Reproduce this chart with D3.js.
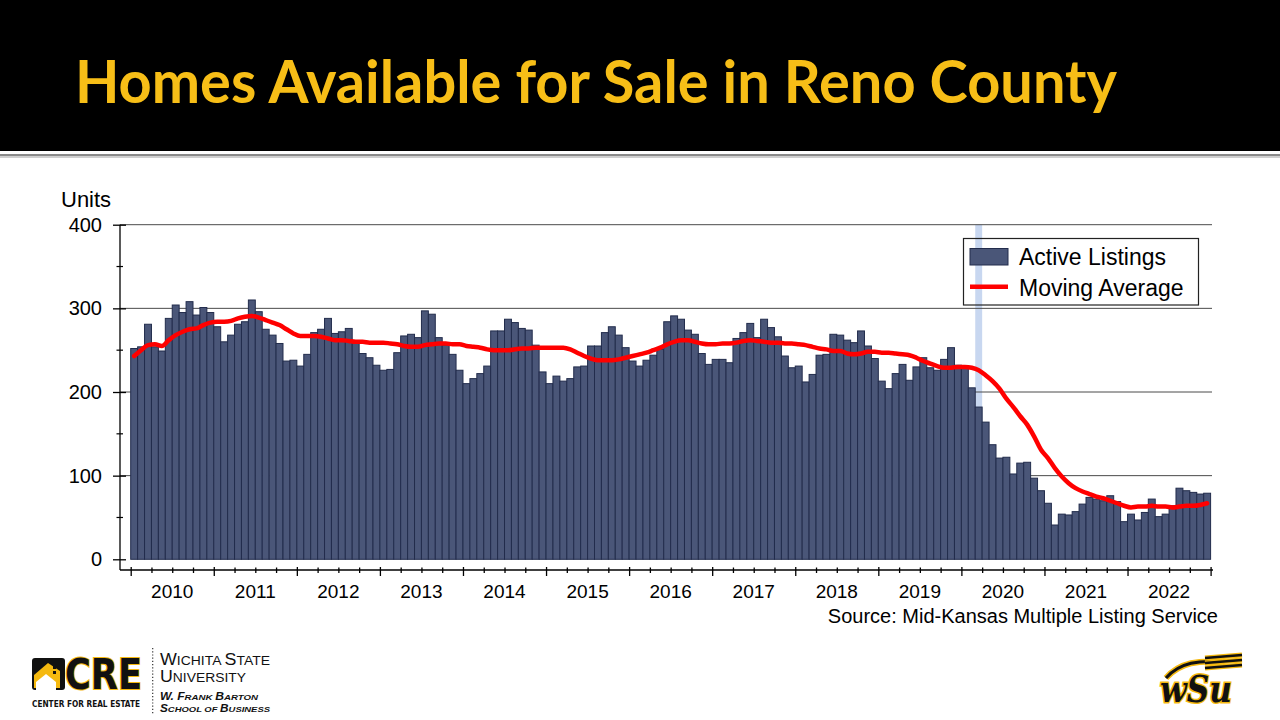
<!DOCTYPE html>
<html>
<head>
<meta charset="utf-8">
<script src="https://cdn.jsdelivr.net/npm/d3@7"></script>
<style>
  html, body { margin: 0; padding: 0; background: #ffffff; }
  svg { display: block; }
</style>
</head>
<body>
<svg id="chart" width="1280" height="720"></svg>
<script>
// ---------------- DATA ----------------
const years = ["2010","2011","2012","2013","2014","2015","2016","2017","2018","2019","2020","2021","2022"];

// Monthly active listings (Jan 2010 - Dec 2022)
const activeListings = [
  252,254,281,254,249,288,304,295,308,292,301,295,   // 2010
  278,260,268,281,284,310,296,275,268,258,237,238,   // 2011
  231,245,271,275,288,270,272,276,259,246,241,232,   // 2012
  226,227,247,267,269,265,297,293,265,256,245,226,   // 2013
  210,216,222,231,273,273,287,283,276,274,256,224,   // 2014
  210,219,213,216,230,231,255,255,271,278,268,253,   // 2015
  237,231,238,244,251,284,291,287,274,269,246,233,   // 2016
  239,239,235,264,271,282,265,287,277,266,243,229,   // 2017
  231,212,221,244,245,269,268,262,259,273,255,240,   // 2018
  213,204,222,233,214,230,241,229,226,239,253,232,   // 2019
  231,205,182,164,137,121,122,102,115,116,97,82,     // 2020
  67,41,54,53,57,66,74,72,70,76,69,45,               // 2021
  54,47,56,72,51,54,64,85,82,80,78,79                // 2022
];

// Moving average, read per month
const movingAverage = [
  243,250,256,257,255,262,268,272,275,276,280,283,   // 2010
  284,284,285,288,290,291,289,286,283,280,275,270,   // 2011
  267,267,267,266,264,262,262,261,260,260,259,259,   // 2012
  259,258,257,255,254,254,256,257,258,258,257,257,   // 2013
  255,254,253,251,250,250,250,251,252,252,253,253,   // 2014
  253,253,253,251,247,243,240,238,238,238,239,241,   // 2015
  243,245,247,250,253,257,260,262,262,260,258,257,   // 2016
  257,258,258,259,261,262,261,260,259,259,258,258,   // 2017
  257,256,254,252,251,249,249,246,245,246,248,248,   // 2018
  247,247,246,245,244,241,237,234,231,229,229,230,   // 2019
  230,229,226,220,213,204,192,182,171,161,147,131,   // 2020
  121,109,99,91,85,81,78,75,73,70,67,64,             // 2021
  62,63,63,64,63,63,62,63,64,64,65,67                // 2022
];

const yTicks = [0, 100, 200, 300, 400];
const yMinorTicks = [50, 150, 250, 350];
const highlightMonth = [122];   // March 2020 shaded band
const legendLabels = ["Active Listings", "Moving Average"];

const titleText = "Homes Available for Sale in Reno County";
const unitsLabel = "Units";
const sourceText = "Source: Mid-Kansas Multiple Listing Service";

// ---------------- DRAW ----------------
const svg = d3.select("#chart");
const W = 1280, H = 720;

// Header
svg.append("rect").attr("x", 0).attr("y", 0).attr("width", W).attr("height", 151).attr("fill", "#000");
svg.append("rect").attr("x", 0).attr("y", 154).attr("width", W).attr("height", 2).attr("fill", "#8a8a8a");
svg.append("rect").attr("x", 0).attr("y", 156).attr("width", W).attr("height", 2).attr("fill", "#d0d0d0");

svg.append("text")
  .attr("x", 75).attr("y", 103)
  .attr("fill", "#f7be17")
  .attr("font-family", "Lato, 'Open Sans', sans-serif")
  .attr("font-weight", 700)
  .attr("font-size", 59)
  .attr("textLength", 1042)
  .attr("lengthAdjust", "spacingAndGlyphs")
  .text(titleText);

// Plot geometry
const plotLeft = 130.7, plotRight = 1210.6, yZero = 559.3, yTop = 224.7;
const axisX = 120, axisY = 570, gridRight = 1212;
const nMonths = activeListings.length;

const x = d3.scaleBand().domain(d3.range(nMonths)).range([plotLeft, plotRight]).padding(0);
const xq = d3.scaleLinear().domain([0, nMonths]).range([plotLeft, plotRight]);
const y = d3.scaleLinear().domain([0, 400]).range([yZero, yTop]);

const font = "'Liberation Sans', Arial, sans-serif";

// Highlight band (behind everything)
svg.append("g").selectAll("rect").data(highlightMonth).join("rect")
  .attr("x", d => x(d))
  .attr("width", x.bandwidth())
  .attr("y", y(400))
  .attr("height", y(0) - y(400))
  .attr("fill", "#c8d7f0");

// Gridlines
svg.append("g").selectAll("line").data(yTicks.filter(d => d > 0)).join("line")
  .attr("x1", axisX).attr("x2", gridRight)
  .attr("y1", d => y(d)).attr("y2", d => y(d))
  .attr("stroke", "#4a4a4a").attr("stroke-width", 1);

// Bars
svg.append("g").selectAll("rect").data(activeListings).join("rect")
  .attr("x", (d, i) => x(i))
  .attr("width", x.bandwidth())
  .attr("y", d => y(d))
  .attr("height", d => y(0) - y(d))
  .attr("fill", "#4a5678")
  .attr("stroke", "#222c4c")
  .attr("stroke-width", 1);

// Moving average line
const line = d3.line()
  .x((d, i) => x(i) + x.bandwidth() / 2)
  .y(d => y(d))
  .curve(d3.curveMonotoneX);
svg.append("path").datum(movingAverage)
  .attr("d", line)
  .attr("fill", "none")
  .attr("stroke", "#ff0000")
  .attr("stroke-width", 4.5)
  .attr("stroke-linejoin", "round")
  .attr("stroke-linecap", "round");

// Y axis
const yAxis = svg.append("g").attr("transform", `translate(${axisX},0)`)
  .call(d3.axisLeft(y).tickValues(yTicks).tickSize(0).tickPadding(18));
yAxis.select(".domain").remove();
yAxis.selectAll(".tick text").attr("font-family", font).attr("font-size", 20).attr("fill", "#000");
yAxis.selectAll(".tick line").attr("x1", -7).attr("x2", 6).attr("stroke", "#000").attr("stroke-width", 1.3);
svg.append("g").selectAll("line").data(yMinorTicks).join("line")
  .attr("x1", axisX - 3.5).attr("x2", axisX + 3)
  .attr("y1", d => y(d)).attr("y2", d => y(d))
  .attr("stroke", "#000").attr("stroke-width", 1.2);
svg.append("line").attr("x1", axisX).attr("x2", axisX).attr("y1", y(400)).attr("y2", axisY)
  .attr("stroke", "#000").attr("stroke-width", 1.3);

// X axis
svg.append("line").attr("x1", axisX).attr("x2", gridRight + 1).attr("y1", axisY).attr("y2", axisY)
  .attr("stroke", "#000").attr("stroke-width", 1.3);
const quarterTicks = d3.range(0, nMonths + 1, 3);
const xAxis = svg.append("g").attr("transform", `translate(0,${axisY})`)
  .call(d3.axisBottom(xq).tickValues(quarterTicks).tickSize(0).tickFormat(""));
xAxis.select(".domain").remove();
xAxis.selectAll(".tick line")
  .attr("y1", d => d % 12 === 0 ? -3 : -2.5)
  .attr("y2", d => d % 12 === 0 ? 6 : 3)
  .attr("stroke", "#000").attr("stroke-width", 1.3);

// Year labels
svg.append("g").selectAll("text").data(years).join("text")
  .attr("x", (d, i) => xq(i * 12 + 6))
  .attr("y", 598)
  .attr("text-anchor", "middle")
  .attr("font-family", font).attr("font-size", 19).attr("fill", "#000")
  .text(d => d);

// Units label
svg.append("text").attr("x", 61).attr("y", 206.5)
  .attr("font-family", font).attr("font-size", 22).attr("fill", "#000")
  .text(unitsLabel);

// Source
svg.append("text").attr("x", 1218).attr("y", 623)
  .attr("text-anchor", "end")
  .attr("font-family", font).attr("font-size", 20).attr("fill", "#000")
  .text(sourceText);

// Legend
const lg = svg.append("g");
lg.append("rect").attr("x", 963.5).attr("y", 238.5).attr("width", 235).attr("height", 66.5)
  .attr("fill", "none").attr("stroke", "#222").attr("stroke-width", 1.2);
lg.append("rect").attr("x", 970).attr("y", 248.5).attr("width", 38).attr("height", 16.5)
  .attr("fill", "#4a5678").attr("stroke", "#222c4c").attr("stroke-width", 1);
lg.append("line").attr("x1", 970).attr("x2", 1008).attr("y1", 286.7).attr("y2", 286.7)
  .attr("stroke", "#ff0000").attr("stroke-width", 4.5);
lg.selectAll("text.lgt").data(legendLabels).join("text")
  .attr("class", "lgt")
  .attr("x", 1019)
  .attr("y", (d, i) => 265 + i * 30.5)
  .attr("font-family", font).attr("font-size", 23).attr("fill", "#000")
  .text(d => d);

// ---------------- LOGOS ----------------
// CRE logo
const cre = svg.append("g");
cre.append("rect").attr("x", 32).attr("y", 658).attr("width", 33).attr("height", 32).attr("rx", 3).attr("fill", "#111");
cre.append("path").attr("d", "M34,675 L48,663 L60,671 L60,688 L34,688 Z").attr("fill", "#f5b90f");
cre.append("path").attr("d", "M36,682 L46,674 L56,682 L56,690 L36,690 Z").attr("fill", "#fff");
cre.append("rect").attr("x", 53).attr("y", 666).attr("width", 3).attr("height", 3).attr("fill", "#111");
cre.append("rect").attr("x", 53).attr("y", 671).attr("width", 3).attr("height", 3).attr("fill", "#111");
cre.append("text").attr("x", 65).attr("y", 688.5)
  .attr("font-family", "'DejaVu Sans Condensed', 'DejaVu Sans', sans-serif")
  .attr("font-weight", 700).attr("font-size", 42)
  .attr("textLength", 77).attr("lengthAdjust", "spacingAndGlyphs")
  .attr("fill", "#111").attr("stroke", "#f5b90f").attr("stroke-width", 2).attr("paint-order", "stroke")
  .text("CRE");
cre.append("text").attr("x", 32).attr("y", 706.5)
  .attr("font-family", "'DejaVu Sans Condensed', 'DejaVu Sans', sans-serif")
  .attr("font-weight", 700).attr("font-size", 9)
  .attr("textLength", 108).attr("lengthAdjust", "spacingAndGlyphs")
  .attr("fill", "#111")
  .text("CENTER FOR REAL ESTATE");
cre.append("line").attr("x1", 152.7).attr("x2", 152.7).attr("y1", 648).attr("y2", 715)
  .attr("stroke", "#333").attr("stroke-width", 1.2).attr("stroke-dasharray", "1.2,2");

function smallCaps(g, xPos, yPos, parts, big, small, len, weight, style) {
  const t = g.append("text").attr("x", xPos).attr("y", yPos)
    .attr("font-family", "'Liberation Sans', Arial, sans-serif")
    .attr("font-weight", weight).attr("font-style", style).attr("fill", "#111")
    .attr("textLength", len).attr("lengthAdjust", "spacingAndGlyphs");
  parts.forEach(p => t.append("tspan").attr("font-size", p[1] ? big : small).text(p[0]));
}
smallCaps(cre, 160, 665, [["W",1],["ICHITA ",0],["S",1],["TATE",0]], 16, 12.5, 110, 400, "normal");
smallCaps(cre, 160, 682, [["U",1],["NIVERSITY",0]], 16, 12.5, 86, 400, "normal");
smallCaps(cre, 160, 700, [["W. F",1],["RANK ",0],["B",1],["ARTON",0]], 10, 8, 98, 700, "italic");
smallCaps(cre, 160, 711.5, [["S",1],["CHOOL OF ",0],["B",1],["USINESS",0]], 10, 8, 110, 700, "italic");

// WSU logo
const wsu = svg.append("g");
wsu.append("path").attr("d", "M1166,678 C1180,662 1200,660 1222,662")
  .attr("fill", "none").attr("stroke", "#f5b90f").attr("stroke-width", 6);
wsu.append("path").attr("d", "M1166,678 C1180,662 1200,660 1222,662")
  .attr("fill", "none").attr("stroke", "#111").attr("stroke-width", 3);
const wheatRows = [656, 661, 666];
wsu.selectAll("path.wheat").data(wheatRows).join("path").attr("class", "wheat")
  .attr("d", d => `M1205,${d + 2} L1242,${d - 1}`)
  .attr("stroke", "#f5b90f").attr("stroke-width", 5).attr("fill", "none");
wsu.selectAll("path.wheat2").data(wheatRows).join("path").attr("class", "wheat2")
  .attr("d", d => `M1205,${d + 2} L1242,${d - 1}`)
  .attr("stroke", "#111").attr("stroke-width", 2.5).attr("fill", "none");
wsu.append("text").attr("x", 1160).attr("y", 702)
  .attr("font-family", "'DejaVu Serif', serif")
  .attr("font-weight", 700).attr("font-style", "italic").attr("font-size", 38)
  .attr("textLength", 72).attr("lengthAdjust", "spacingAndGlyphs")
  .attr("fill", "#111").attr("stroke", "#f5b90f").attr("stroke-width", 3).attr("paint-order", "stroke")
  .text("wSu");
</script>
</body>
</html>
